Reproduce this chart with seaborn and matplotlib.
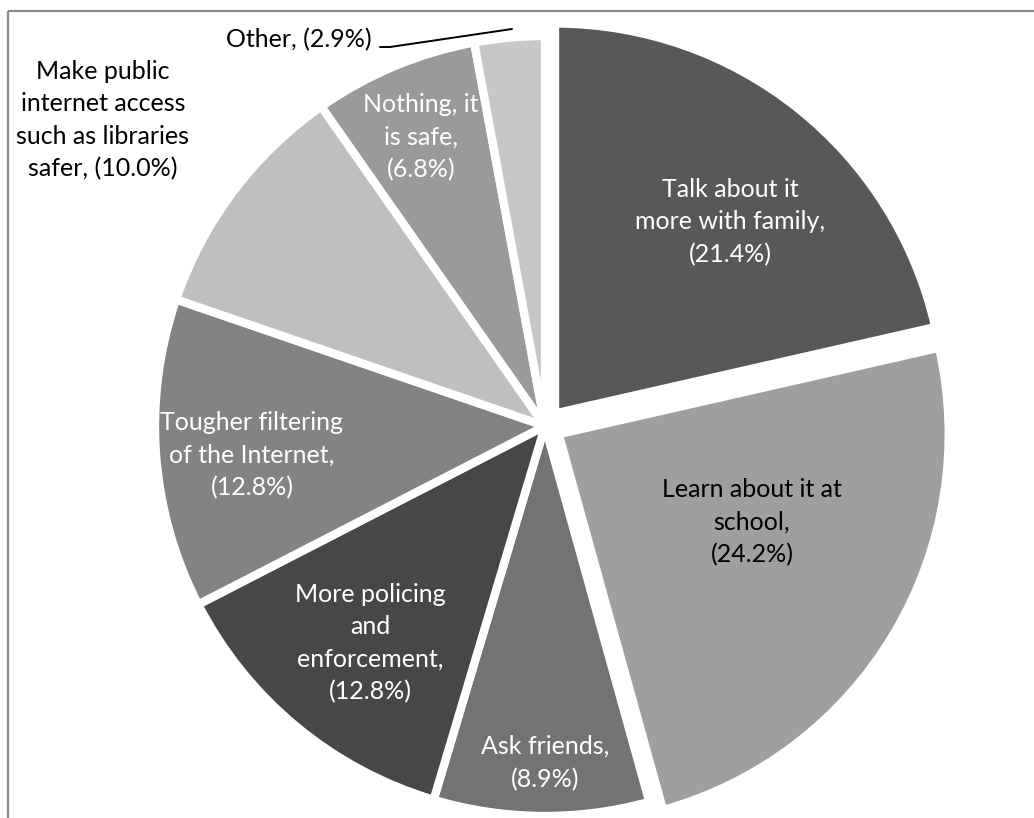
import numpy as np
import matplotlib
matplotlib.use("Agg")
import matplotlib.pyplot as plt
from matplotlib.patches import Rectangle
import seaborn as sns

# data (clockwise from 12 o'clock)
labels = ["Talk about it\nmore with family,", "Learn about it at\nschool,", "Ask friends,",
          "More policing\nand\nenforcement,", "Tougher filtering\nof the Internet,",
          "Make public\ninternet access\nsuch as libraries\nsafer,", "Nothing, it\nis safe,", "Other,"]
shares = [21.4, 24.2, 8.9, 12.8, 12.8, 10.0, 6.8, 2.9]
greys = ["#585858", "#9f9f9f", "#737373", "#474747", "#838383", "#bfbfbf", "#9a9a9a", "#c7c7c7"]

W, H = 1034, 818

sns.set_theme(style="white")
plt.rcParams['font.family'] = ['Lato', 'DejaVu Sans']

fig = plt.figure(figsize=(W / 100, H / 100), dpi=100)
ax = fig.add_axes([0, 0, 1, 1])

def iy(y):
    # image row -> data y
    return H - y

cx, cy, R = 545, 426, 390
explode = [16, 16, 0, 0, 0, 0, 0, 0]
ax.pie(shares, colors=greys, startangle=90, counterclock=False,
       center=(cx, iy(cy)), radius=R, explode=explode,
       wedgeprops=dict(edgecolor="white", linewidth=6, joinstyle="miter"))

ax.set_xlim(0, W)
ax.set_ylim(0, H)
ax.set_aspect("equal")
ax.axis("off")

# label text: "<name> (<pct>%)"
txt = [f"{l}\n({v:.1f}%)" for l, v in zip(labels, shares)]
txt[5] = labels[5] + f" ({shares[5]:.1f}%)"
txt[7] = labels[7] + f" ({shares[7]:.1f}%)"

pos = [(730, 222, "white"), (752, 522, "black"), (545, 763, "white"),
       (370, 643, "white"), (252, 455, "white"), (103, 120, "black"),
       (421, 137, "white"), (299, 40, "black")]
for t, (x, y, c) in zip(txt, pos):
    ax.text(x, iy(y), t, ha="center", va="center", multialignment="center",
            color=c, fontsize=18, linespacing=1.5)

# leader line for the small slice
ax.plot([380, 390, 512], [iy(47), iy(47), iy(29)], color="black", lw=1.4)

# chart frame
ax.add_patch(Rectangle((8, iy(11)), 1200, -1000, fill=False,
                       edgecolor="#8a8a8a", lw=1.6))

fig.savefig("out.png", dpi=100)
